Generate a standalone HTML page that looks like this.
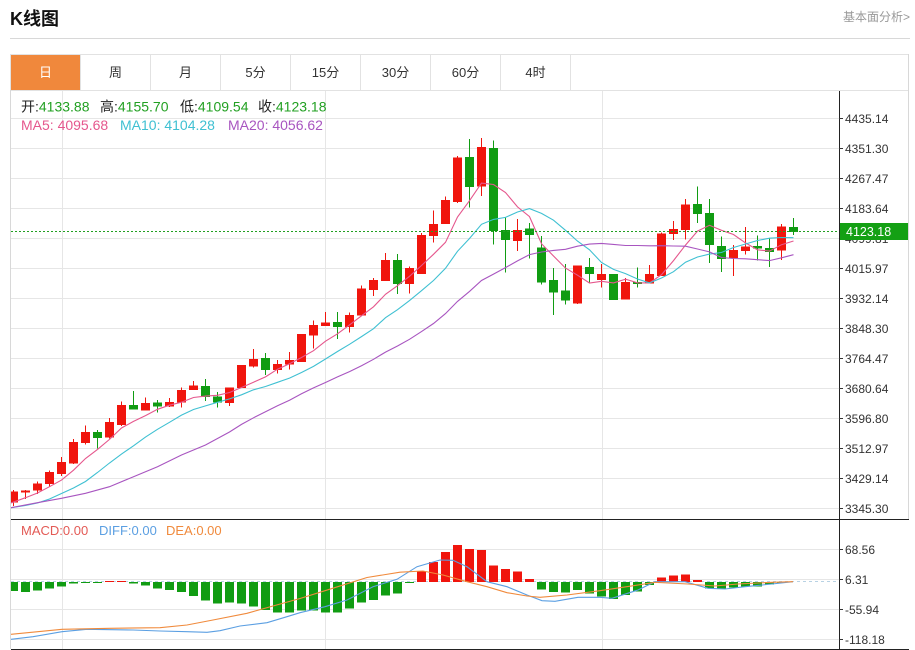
<!DOCTYPE html>
<html><head><meta charset="utf-8"><style>
html,body{margin:0;padding:0;background:#fff;width:915px;height:650px;overflow:hidden}
svg{display:block}
text{font-family:"Liberation Sans","Noto Sans CJK SC",sans-serif}
.r{fill:#f0150d}.g{fill:#109c12}
.gl{stroke:#e6e6e6;stroke-width:1}
.ax{font-size:12px;fill:#333}
</style></head><body>
<svg width="915" height="650" viewBox="0 0 915 650" xmlns="http://www.w3.org/2000/svg">
<defs><clipPath id="c"><rect x="11" y="91" width="828" height="558"/></clipPath></defs>
<!-- header -->
<text x="10" y="25" font-size="18" font-weight="bold" fill="#111">K线图</text>
<text x="910" y="21" font-size="12" fill="#999" text-anchor="end">基本面分析&gt;</text>
<line x1="10" y1="38.5" x2="910" y2="38.5" stroke="#d8d8d8"/>
<!-- tabs -->
<g shape-rendering="crispEdges">
<rect x="10.5" y="54.5" width="898" height="36" fill="#fff" stroke="#e2e2e2"/>
<rect x="11" y="55" width="69" height="35" fill="#f0883c"/>
<line x1="80.5" y1="54.5" x2="80.5" y2="90.5" stroke="#e2e2e2"/>
<line x1="150.5" y1="54.5" x2="150.5" y2="90.5" stroke="#e2e2e2"/>
<line x1="220.5" y1="54.5" x2="220.5" y2="90.5" stroke="#e2e2e2"/>
<line x1="290.5" y1="54.5" x2="290.5" y2="90.5" stroke="#e2e2e2"/>
<line x1="360.5" y1="54.5" x2="360.5" y2="90.5" stroke="#e2e2e2"/>
<line x1="430.5" y1="54.5" x2="430.5" y2="90.5" stroke="#e2e2e2"/>
<line x1="500.5" y1="54.5" x2="500.5" y2="90.5" stroke="#e2e2e2"/>
<line x1="570.5" y1="54.5" x2="570.5" y2="90.5" stroke="#e2e2e2"/>
</g>
<g font-size="13" fill="#333" text-anchor="middle">
<text x="45.5" y="77" fill="#fff">日</text>
<text x="115.5" y="77">周</text>
<text x="185.5" y="77">月</text>
<text x="255.5" y="77">5分</text>
<text x="325.5" y="77">15分</text>
<text x="395.5" y="77">30分</text>
<text x="465.5" y="77">60分</text>
<text x="535.5" y="77">4时</text>
</g>
<!-- grid -->
<g shape-rendering="crispEdges">
<line class="gl" x1="11" y1="118.5" x2="839" y2="118.5"/>
<line class="gl" x1="11" y1="148.5" x2="839" y2="148.5"/>
<line class="gl" x1="11" y1="178.5" x2="839" y2="178.5"/>
<line class="gl" x1="11" y1="208.5" x2="839" y2="208.5"/>
<line class="gl" x1="11" y1="238.5" x2="839" y2="238.5"/>
<line class="gl" x1="11" y1="268.5" x2="839" y2="268.5"/>
<line class="gl" x1="11" y1="298.5" x2="839" y2="298.5"/>
<line class="gl" x1="11" y1="328.5" x2="839" y2="328.5"/>
<line class="gl" x1="11" y1="358.5" x2="839" y2="358.5"/>
<line class="gl" x1="11" y1="388.5" x2="839" y2="388.5"/>
<line class="gl" x1="11" y1="418.5" x2="839" y2="418.5"/>
<line class="gl" x1="11" y1="448.5" x2="839" y2="448.5"/>
<line class="gl" x1="11" y1="478.5" x2="839" y2="478.5"/>
<line class="gl" x1="11" y1="508.5" x2="839" y2="508.5"/>
<line class="gl" x1="11" y1="549.5" x2="839" y2="549.5"/>
<line class="gl" x1="11" y1="579.5" x2="839" y2="579.5"/>
<line class="gl" x1="11" y1="609.5" x2="839" y2="609.5"/>
<line class="gl" x1="11" y1="639.5" x2="839" y2="639.5"/>
<line class="gl" x1="62.5" y1="91" x2="62.5" y2="649"/>
<line class="gl" x1="325.5" y1="91" x2="325.5" y2="649"/>
<line class="gl" x1="602.5" y1="91" x2="602.5" y2="649"/>
<line x1="11" y1="581.5" x2="839" y2="581.5" stroke="#b8d2e4" stroke-dasharray="3,3"/>
</g>
<!-- candles -->
<g clip-path="url(#c)" shape-rendering="crispEdges">
<rect class="r" x="13" y="490" width="1" height="16"/><rect class="r" x="9" y="491.5" width="9" height="11"/>
<rect class="r" x="25" y="490" width="1" height="9"/><rect class="r" x="21" y="490.5" width="9" height="2"/>
<rect class="r" x="37" y="481.5" width="1" height="12.5"/><rect class="r" x="33" y="483.5" width="9" height="7"/>
<rect class="r" x="49" y="470.5" width="1" height="16"/><rect class="r" x="45" y="472" width="9" height="12"/>
<rect class="r" x="61" y="457" width="1" height="19"/><rect class="r" x="57" y="462" width="9" height="12"/>
<rect class="r" x="73" y="439" width="1" height="25"/><rect class="r" x="69" y="442" width="9" height="21.5"/>
<rect class="r" x="85" y="425.5" width="1" height="19"/><rect class="r" x="81" y="432" width="9" height="11"/>
<rect class="g" x="97" y="430" width="1" height="18.5"/><rect class="g" x="93" y="432" width="9" height="6"/>
<rect class="r" x="109" y="418" width="1" height="20.5"/><rect class="r" x="105" y="422" width="9" height="15.5"/>
<rect class="r" x="121" y="401.5" width="1" height="24.5"/><rect class="r" x="117" y="405" width="9" height="20"/>
<rect class="g" x="133" y="391" width="1" height="18.5"/><rect class="g" x="129" y="405" width="9" height="4.5"/>
<rect class="r" x="145" y="397.5" width="1" height="13"/><rect class="r" x="141" y="403" width="9" height="7.5"/>
<rect class="g" x="157" y="400" width="1" height="12.5"/><rect class="g" x="153" y="402.5" width="9" height="4"/>
<rect class="r" x="169" y="398" width="1" height="9"/><rect class="r" x="165" y="402" width="9" height="4.5"/>
<rect class="r" x="181" y="387.5" width="1" height="20"/><rect class="r" x="177" y="390" width="9" height="12.5"/>
<rect class="r" x="193" y="381" width="1" height="9"/><rect class="r" x="189" y="385.5" width="9" height="4.5"/>
<rect class="g" x="205" y="379" width="1" height="22"/><rect class="g" x="201" y="386" width="9" height="11"/>
<rect class="g" x="217" y="392" width="1" height="15.5"/><rect class="g" x="213" y="396.5" width="9" height="6"/>
<rect class="r" x="229" y="387.5" width="1" height="18.5"/><rect class="r" x="225" y="387.5" width="9" height="15.5"/>
<rect class="r" x="241" y="365" width="1" height="23"/><rect class="r" x="237" y="365" width="9" height="23"/>
<rect class="r" x="253" y="349" width="1" height="18.5"/><rect class="r" x="249" y="359" width="9" height="7.5"/>
<rect class="g" x="265" y="353" width="1" height="22"/><rect class="g" x="261" y="358" width="9" height="12"/>
<rect class="r" x="277" y="360" width="1" height="13.5"/><rect class="r" x="273" y="364" width="9" height="6"/>
<rect class="r" x="289" y="352" width="1" height="17.5"/><rect class="r" x="285" y="360" width="9" height="4.5"/>
<rect class="r" x="301" y="334" width="1" height="28"/><rect class="r" x="297" y="334" width="9" height="28"/>
<rect class="r" x="313" y="320.5" width="1" height="28"/><rect class="r" x="309" y="325" width="9" height="10.5"/>
<rect class="r" x="325" y="312" width="1" height="14"/><rect class="r" x="321" y="322.5" width="9" height="3.5"/>
<rect class="g" x="337" y="312" width="1" height="27"/><rect class="g" x="333" y="322" width="9" height="5"/>
<rect class="r" x="349" y="312.5" width="1" height="20"/><rect class="r" x="345" y="315" width="9" height="12"/>
<rect class="r" x="361" y="285.5" width="1" height="30"/><rect class="r" x="357" y="288.5" width="9" height="27"/>
<rect class="r" x="373" y="278" width="1" height="18"/><rect class="r" x="369" y="280" width="9" height="10"/>
<rect class="r" x="385" y="253" width="1" height="28"/><rect class="r" x="381" y="260" width="9" height="21"/>
<rect class="g" x="397" y="254" width="1" height="40"/><rect class="g" x="393" y="260" width="9" height="24"/>
<rect class="r" x="409" y="266.5" width="1" height="27"/><rect class="r" x="405" y="268" width="9" height="16"/>
<rect class="r" x="421" y="233" width="1" height="41"/><rect class="r" x="417" y="235" width="9" height="39"/>
<rect class="r" x="433" y="210.5" width="1" height="32"/><rect class="r" x="429" y="224" width="9" height="12"/>
<rect class="r" x="445" y="196.5" width="1" height="27.5"/><rect class="r" x="441" y="200" width="9" height="24"/>
<rect class="r" x="457" y="156" width="1" height="47"/><rect class="r" x="453" y="157.5" width="9" height="44.5"/>
<rect class="g" x="469" y="139" width="1" height="68.5"/><rect class="g" x="465" y="157" width="9" height="30"/>
<rect class="r" x="481" y="138" width="1" height="58"/><rect class="r" x="477" y="147" width="9" height="39.5"/>
<rect class="g" x="493" y="140.5" width="1" height="104"/><rect class="g" x="489" y="148" width="9" height="83"/>
<rect class="g" x="505" y="217" width="1" height="55.5"/><rect class="g" x="501" y="230" width="9" height="10"/>
<rect class="r" x="517" y="219" width="1" height="32"/><rect class="r" x="513" y="230" width="9" height="11"/>
<rect class="g" x="529" y="223" width="1" height="35.5"/><rect class="g" x="525" y="228.5" width="9" height="6.5"/>
<rect class="g" x="541" y="236" width="1" height="48.5"/><rect class="g" x="537" y="247.5" width="9" height="35"/>
<rect class="g" x="553" y="268" width="1" height="47"/><rect class="g" x="549" y="280" width="9" height="12.5"/>
<rect class="g" x="565" y="264" width="1" height="40.5"/><rect class="g" x="561" y="290.5" width="9" height="10"/>
<rect class="r" x="577" y="265.5" width="1" height="38.5"/><rect class="r" x="573" y="265.5" width="9" height="38"/>
<rect class="g" x="589" y="258" width="1" height="25.5"/><rect class="g" x="585" y="267" width="9" height="7"/>
<rect class="r" x="601" y="264" width="1" height="23.5"/><rect class="r" x="597" y="274" width="9" height="6"/>
<rect class="g" x="613" y="274" width="1" height="26"/><rect class="g" x="609" y="274" width="9" height="26"/>
<rect class="r" x="625" y="278" width="1" height="21.5"/><rect class="r" x="621" y="282" width="9" height="17.5"/>
<rect class="g" x="637" y="267.5" width="1" height="20"/><rect class="g" x="633" y="282" width="9" height="2"/>
<rect class="r" x="649" y="265" width="1" height="18.5"/><rect class="r" x="645" y="274" width="9" height="9.5"/>
<rect class="r" x="661" y="232.5" width="1" height="43.5"/><rect class="r" x="657" y="233.5" width="9" height="42.5"/>
<rect class="r" x="673" y="221" width="1" height="19"/><rect class="r" x="669" y="229" width="9" height="5"/>
<rect class="r" x="685" y="199" width="1" height="40.5"/><rect class="r" x="681" y="204.5" width="9" height="25.5"/>
<rect class="g" x="697" y="186.5" width="1" height="36.5"/><rect class="g" x="693" y="204" width="9" height="10"/>
<rect class="g" x="709" y="199" width="1" height="64"/><rect class="g" x="705" y="213" width="9" height="32"/>
<rect class="g" x="721" y="236.5" width="1" height="35.5"/><rect class="g" x="717" y="246" width="9" height="13"/>
<rect class="r" x="733" y="245" width="1" height="31"/><rect class="r" x="729" y="250" width="9" height="8"/>
<rect class="r" x="745" y="227" width="1" height="27.5"/><rect class="r" x="741" y="246.5" width="9" height="4.5"/>
<rect class="g" x="757" y="235.5" width="1" height="25"/><rect class="g" x="753" y="246" width="9" height="2.5"/>
<rect class="g" x="769" y="238" width="1" height="29"/><rect class="g" x="765" y="248" width="9" height="4"/>
<rect class="r" x="781" y="224" width="1" height="36"/><rect class="r" x="777" y="226.5" width="9" height="24"/>
<rect class="g" x="793" y="218" width="1" height="17"/><rect class="g" x="789" y="227" width="9" height="5"/>
</g>
<!-- MA lines -->
<g fill="none" stroke-width="1.1" clip-path="url(#c)">
<polyline stroke="#e5578d" points="11,503 25.5,497.7 37.5,493 49.5,486.7 61.5,480.1 73.5,470.2 85.5,458.5 97.5,449.4 109.5,439.4 121.5,428 133.5,421.4 145.5,415.6 157.5,409.3 169.5,405.2 181.5,402.2 193.5,397.5 205.5,396.1 217.5,395.3 229.5,392.5 241.5,387.5 253.5,382.2 265.5,376.9 277.5,369.2 289.5,363.7 301.5,357.5 313.5,350.7 325.5,341.2 337.5,333.8 349.5,324.9 361.5,315.8 373.5,306.8 385.5,294.3 397.5,285.7 409.5,276.3 421.5,265.5 433.5,254.3 445.5,242.3 457.5,217 469.5,200.7 481.5,183.1 493.5,184.5 505.5,192.5 517.5,206.9 529.5,216.6 541.5,243.7 553.5,256 565.5,268.1 577.5,275.2 589.5,283 601.5,281.3 613.5,282.9 625.5,279.2 637.5,282.8 649.5,282.9 661.5,274.7 673.5,260.6 685.5,245.1 697.5,231.1 709.5,225.3 721.5,230.3 733.5,234.5 745.5,242.9 757.5,249.8 769.5,251.1 781.5,244.7 793.5,241"/>
<polyline stroke="#3fc0d2" points="11,507.7 25.5,505.5 37.5,503 49.5,499 61.5,493.5 73.5,488 85.5,481.5 97.5,472.5 109.5,463 121.5,454.1 133.5,445.8 145.5,437.1 157.5,429.3 169.5,422.3 181.5,415.1 193.5,409.5 205.5,405.9 217.5,402.3 229.5,398.9 241.5,394.8 253.5,389.8 265.5,386.5 277.5,382.3 289.5,378.1 301.5,372.5 313.5,366.4 325.5,359 337.5,351.5 349.5,344.3 361.5,336.6 373.5,328.7 385.5,317.7 397.5,309.7 409.5,300.6 421.5,290.7 433.5,280.5 445.5,268.3 457.5,251.3 469.5,238.5 481.5,224.3 493.5,219.4 505.5,217.4 517.5,212 529.5,208.6 541.5,213.4 553.5,220.2 565.5,230.3 577.5,241.1 589.5,249.8 601.5,262.5 613.5,269.4 625.5,273.6 637.5,279 649.5,282.9 661.5,278 673.5,271.7 685.5,262.2 697.5,257 709.5,254.1 721.5,252.5 733.5,247.5 745.5,244 757.5,240.5 769.5,238.2 781.5,237.5 793.5,237.7"/>
<polyline stroke="#a855c0" points="11,507.7 37.5,502.7 61.5,498.3 85.5,493.3 109.5,486.7 133.5,476.7 157.5,466.7 181.5,455 205.5,445 229.5,432 241.5,424.4 253.5,417.8 265.5,411.8 277.5,405.8 289.5,400.2 301.5,393.8 313.5,387.9 325.5,382.5 337.5,376.9 349.5,371.6 361.5,365.7 373.5,359.3 385.5,352.1 397.5,346 409.5,339.3 421.5,331.6 433.5,323.5 445.5,313.6 457.5,301.4 469.5,291.4 481.5,280.5 493.5,274.1 505.5,267.6 517.5,260.9 529.5,254.6 541.5,252 553.5,250.4 565.5,249.3 577.5,246.2 589.5,244.1 601.5,243.4 613.5,244.4 625.5,245.5 637.5,245.5 649.5,245.8 661.5,245.7 673.5,246 685.5,246.2 697.5,249 709.5,251.9 721.5,257.5 733.5,258.5 745.5,258.8 757.5,259.7 769.5,260.6 781.5,257.8 793.5,254.7"/>
</g>
<line x1="11" y1="231.5" x2="839" y2="231.5" stroke="#22a022" stroke-dasharray="2,2"/>
<!-- MACD bars -->
<g clip-path="url(#c)" shape-rendering="crispEdges">
<rect class="g" x="9" y="582" width="9" height="9"/>
<rect class="g" x="21" y="582" width="9" height="10"/>
<rect class="g" x="33" y="582" width="9" height="8.5"/>
<rect class="g" x="45" y="582" width="9" height="6.5"/>
<rect class="g" x="57" y="582" width="9" height="4.5"/>
<rect class="g" x="69" y="582" width="9" height="1.5"/>
<rect class="g" x="81" y="582" width="9" height="1"/>
<rect class="g" x="93" y="582" width="9" height="1"/>
<rect class="r" x="105" y="581" width="9" height="1"/>
<rect class="r" x="117" y="581" width="9" height="1"/>
<rect class="g" x="129" y="582" width="9" height="1.5"/>
<rect class="g" x="141" y="582" width="9" height="3.5"/>
<rect class="g" x="153" y="582" width="9" height="6.5"/>
<rect class="g" x="165" y="582" width="9" height="8"/>
<rect class="g" x="177" y="582" width="9" height="10"/>
<rect class="g" x="189" y="582" width="9" height="14"/>
<rect class="g" x="201" y="582" width="9" height="18.5"/>
<rect class="g" x="213" y="582" width="9" height="21.5"/>
<rect class="g" x="225" y="582" width="9" height="20.5"/>
<rect class="g" x="237" y="582" width="9" height="21.5"/>
<rect class="g" x="249" y="582" width="9" height="24.5"/>
<rect class="g" x="261" y="582" width="9" height="28"/>
<rect class="g" x="273" y="582" width="9" height="30.5"/>
<rect class="g" x="285" y="582" width="9" height="30.5"/>
<rect class="g" x="297" y="582" width="9" height="28.5"/>
<rect class="g" x="309" y="582" width="9" height="28.5"/>
<rect class="g" x="321" y="582" width="9" height="30.5"/>
<rect class="g" x="333" y="582" width="9" height="30.5"/>
<rect class="g" x="345" y="582" width="9" height="26.5"/>
<rect class="g" x="357" y="582" width="9" height="20.5"/>
<rect class="g" x="369" y="582" width="9" height="18"/>
<rect class="g" x="381" y="582" width="9" height="13.5"/>
<rect class="g" x="393" y="582" width="9" height="11.5"/>
<rect class="g" x="405" y="582" width="9" height="1"/>
<rect class="r" x="417" y="571.5" width="9" height="10.5"/>
<rect class="r" x="429" y="562" width="9" height="20"/>
<rect class="r" x="441" y="552" width="9" height="30"/>
<rect class="r" x="453" y="545" width="9" height="37"/>
<rect class="r" x="465" y="549" width="9" height="33"/>
<rect class="r" x="477" y="550" width="9" height="32"/>
<rect class="r" x="489" y="565.5" width="9" height="16.5"/>
<rect class="r" x="501" y="569" width="9" height="13"/>
<rect class="r" x="513" y="571.5" width="9" height="10.5"/>
<rect class="r" x="525" y="579" width="9" height="3"/>
<rect class="g" x="537" y="582" width="9" height="7.5"/>
<rect class="g" x="549" y="582" width="9" height="10"/>
<rect class="g" x="561" y="582" width="9" height="10.5"/>
<rect class="g" x="573" y="582" width="9" height="8"/>
<rect class="g" x="585" y="582" width="9" height="11.5"/>
<rect class="g" x="597" y="582" width="9" height="14.5"/>
<rect class="g" x="609" y="582" width="9" height="17"/>
<rect class="g" x="621" y="582" width="9" height="13"/>
<rect class="g" x="633" y="582" width="9" height="9.5"/>
<rect class="g" x="645" y="582" width="9" height="3"/>
<rect class="r" x="657" y="577.5" width="9" height="4.5"/>
<rect class="r" x="669" y="575.5" width="9" height="6.5"/>
<rect class="r" x="681" y="574.5" width="9" height="7.5"/>
<rect class="r" x="693" y="580" width="9" height="2"/>
<rect class="g" x="705" y="582" width="9" height="6.5"/>
<rect class="g" x="717" y="582" width="9" height="7"/>
<rect class="g" x="729" y="582" width="9" height="5.5"/>
<rect class="g" x="741" y="582" width="9" height="4.5"/>
<rect class="g" x="753" y="582" width="9" height="4.5"/>
<rect class="g" x="765" y="582" width="9" height="2.5"/>
<rect class="g" x="777" y="582" width="9" height="1"/>
</g>
<g fill="none" stroke-width="1.1" clip-path="url(#c)">
<polyline stroke="#5b9fe2" points="11,639.3 33,636.7 62,631.7 87,629.3 133,630 160,631 187,631.7 207,632.3 220,630.7 240,626 267,622.7 287,616.7 300,612.7 325,606.7 347,600 373,586.7 397,579.3 417,566.7 440,560 453,560.3 467,566.7 487,581.7 507,586.7 527,595 542,600.7 555,601.3 578,597.3 600,597.3 612,598.3 638,590 655,581.7 685,581.7 708,588.3 725,589 745,586.7 772,584 793,581.7"/>
<polyline stroke="#f08a3c" points="11,634.3 62,629.3 110,628.3 160,627.7 187,625 213,620 247,613.3 273,606 300,598.5 333,588.2 367,577.5 400,572.2 423,571 443,575 467,581.7 487,586.7 507,592.7 527,596 540,597.3 567,595 600,590.7 638,585 655,582.3 688,584 715,586 738,584 772,582.3 793,581.7"/>
</g>
<!-- frame -->
<g shape-rendering="crispEdges">
<line x1="10.5" y1="90" x2="10.5" y2="649" stroke="#d8d8d8"/>
<line x1="908.5" y1="54" x2="908.5" y2="519" stroke="#d8d8d8"/>
<line x1="839.5" y1="91" x2="839.5" y2="649" stroke="#222"/>
<line x1="11" y1="519.5" x2="909" y2="519.5" stroke="#222"/>
<line x1="11" y1="649.5" x2="909" y2="649.5" stroke="#222"/>
<line x1="839" y1="118.5" x2="843" y2="118.5" stroke="#333"/>
<line x1="839" y1="148.5" x2="843" y2="148.5" stroke="#333"/>
<line x1="839" y1="178.5" x2="843" y2="178.5" stroke="#333"/>
<line x1="839" y1="208.5" x2="843" y2="208.5" stroke="#333"/>
<line x1="839" y1="268.5" x2="843" y2="268.5" stroke="#333"/>
<line x1="839" y1="298.5" x2="843" y2="298.5" stroke="#333"/>
<line x1="839" y1="328.5" x2="843" y2="328.5" stroke="#333"/>
<line x1="839" y1="358.5" x2="843" y2="358.5" stroke="#333"/>
<line x1="839" y1="388.5" x2="843" y2="388.5" stroke="#333"/>
<line x1="839" y1="418.5" x2="843" y2="418.5" stroke="#333"/>
<line x1="839" y1="448.5" x2="843" y2="448.5" stroke="#333"/>
<line x1="839" y1="478.5" x2="843" y2="478.5" stroke="#333"/>
<line x1="839" y1="508.5" x2="843" y2="508.5" stroke="#333"/>
<line x1="839" y1="549.5" x2="843" y2="549.5" stroke="#333"/>
<line x1="839" y1="579.5" x2="843" y2="579.5" stroke="#333"/>
<line x1="839" y1="609.5" x2="843" y2="609.5" stroke="#333"/>
<line x1="839" y1="639.5" x2="843" y2="639.5" stroke="#333"/>
</g>
<!-- axis labels -->
<g class="ax">
<text x="845" y="123">4435.14</text>
<text x="845" y="153">4351.30</text>
<text x="845" y="183">4267.47</text>
<text x="845" y="213">4183.64</text>
<text x="845" y="243">4099.81</text>
<text x="845" y="273">4015.97</text>
<text x="845" y="303">3932.14</text>
<text x="845" y="333">3848.30</text>
<text x="845" y="363">3764.47</text>
<text x="845" y="393">3680.64</text>
<text x="845" y="423">3596.80</text>
<text x="845" y="453">3512.97</text>
<text x="845" y="483">3429.14</text>
<text x="845" y="513">3345.30</text>
<text x="845" y="554">68.56</text>
<text x="845" y="584">6.31</text>
<text x="845" y="614">-55.94</text>
<text x="845" y="644">-118.18</text>
</g>
<rect x="840" y="223" width="68" height="17" fill="#14a014"/>
<text x="846" y="236" font-size="12.5" fill="#fff">4123.18</text>
<!-- legends -->
<g font-size="14">
<text x="21" y="111.5" fill="#222">开:<tspan fill="#22a022">4133.88</tspan></text>
<text x="100" y="111.5" fill="#222">高:<tspan fill="#22a022">4155.70</tspan></text>
<text x="180" y="111.5" fill="#222">低:<tspan fill="#22a022">4109.54</tspan></text>
<text x="258" y="111.5" fill="#222">收:<tspan fill="#22a022">4123.18</tspan></text>
<text x="21" y="130" fill="#e5578d">MA5: 4095.68</text>
<text x="120" y="130" fill="#3fc0d2">MA10: 4104.28</text>
<text x="228" y="130" fill="#a855c0">MA20: 4056.62</text>
</g>
<g font-size="13">
<text x="21" y="535" fill="#e35a55">MACD:0.00</text>
<text x="99" y="535" fill="#5b9fe2">DIFF:0.00</text>
<text x="166" y="535" fill="#f08a3c">DEA:0.00</text>
</g>
</svg>
</body></html>
